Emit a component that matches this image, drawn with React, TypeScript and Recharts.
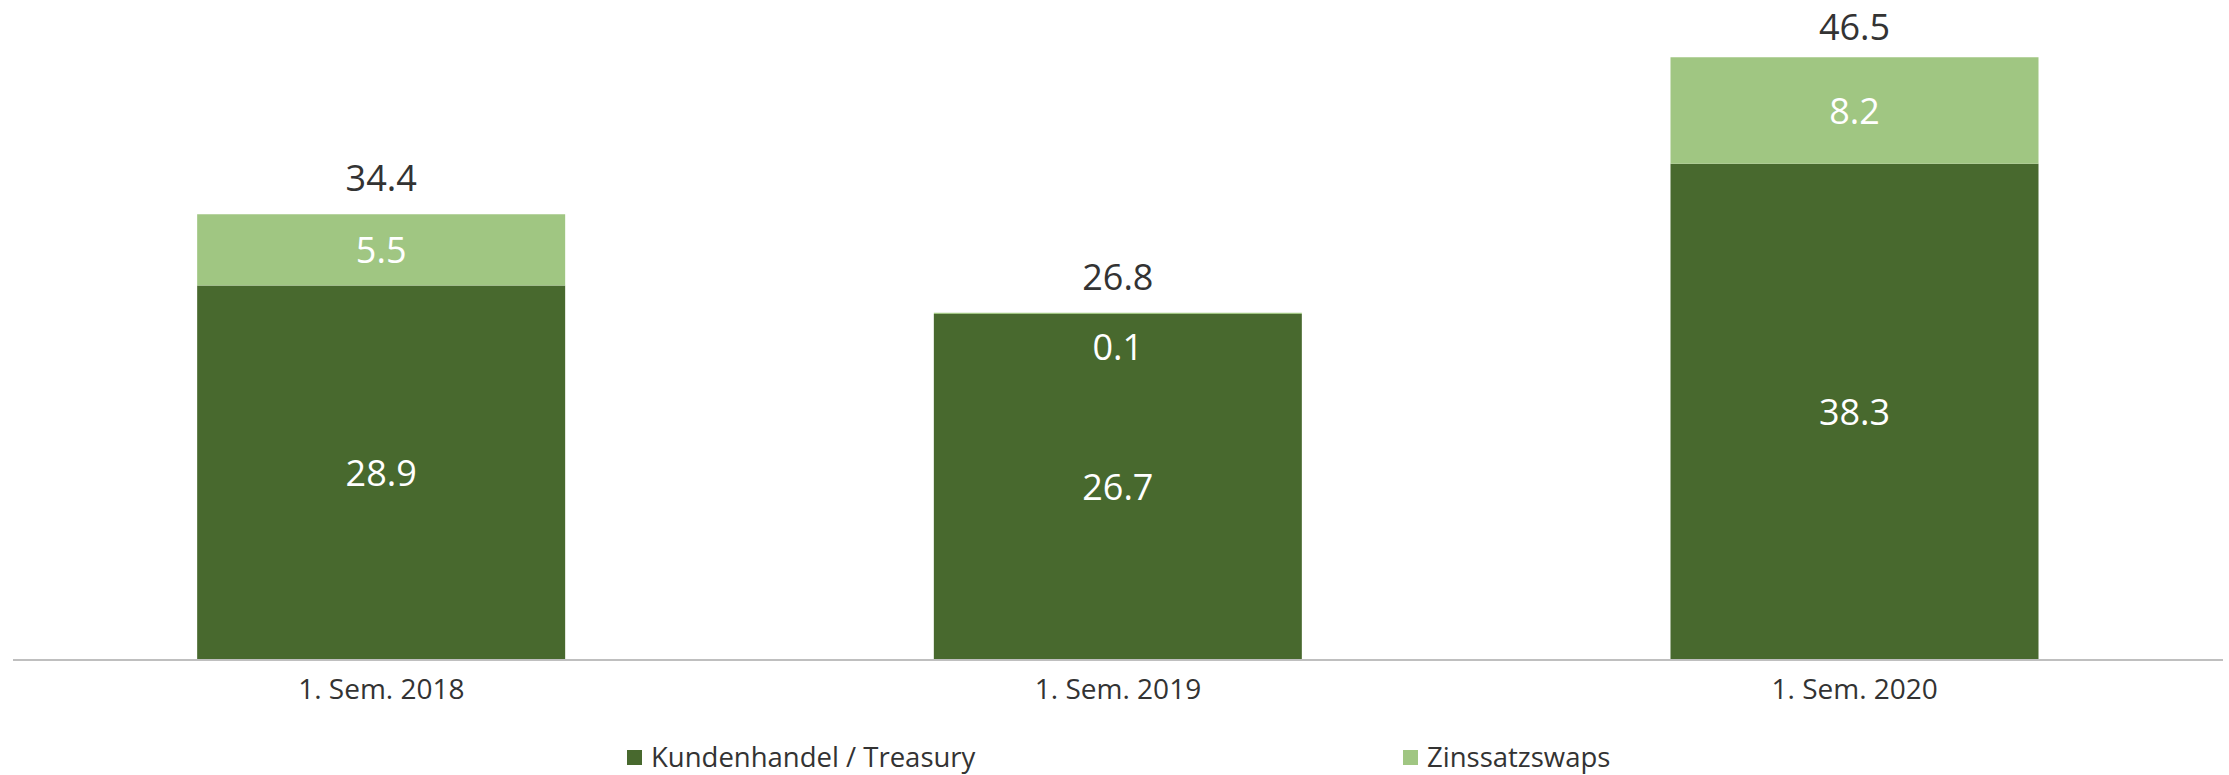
import React from "react";
import { BarChart, Bar, XAxis, YAxis, LabelList, Legend } from "recharts";

const categories = ["1. Sem. 2018", "1. Sem. 2019", "1. Sem. 2020"];
const kundenhandel = [28.9, 26.7, 38.3];
const zinssatzswaps = [5.5, 0.1, 8.2];
const totals = [34.4, 26.8, 46.5];

const seriesNames = ["Kundenhandel / Treasury", "Zinssatzswaps"];
const DARK = "#48692e";
const LIGHT = "#a0c682";
const FONT = "'Open Sans', 'Noto Sans', sans-serif";

const data = categories.map((c, i) => ({
  name: c,
  kunden: kundenhandel[i],
  zins: zinssatzswaps[i],
  total: totals[i],
}));

const fmt = (v: any) => (typeof v === "number" ? v.toFixed(1) : v);

const box = (props: any) => {
  const vb = props.viewBox || props;
  return {
    x: Number(vb.x ?? props.x),
    y: Number(vb.y ?? props.y),
    w: Number(vb.width ?? props.width),
    h: Math.abs(Number(vb.height ?? props.height)),
  };
};

const LightLabel = (props: any) => {
  const { x, y, w, h } = box(props);
  const cy = h < 30 ? y + 34 : y + h / 2;
  return (
    <text
      x={x + w / 2}
      y={cy}
      textAnchor="middle"
      dominantBaseline="central"
      fill="#ffffff"
      fontSize={36}
      fontFamily={FONT}
    >
      {fmt(props.value)}
    </text>
  );
};

const TotalLabel = (props: any) => {
  const { x, y, w } = box(props);
  const base = Math.max(y - 23, 40);
  return (
    <text
      x={x + w / 2}
      y={base}
      textAnchor="middle"
      fill="#333333"
      fontSize={36}
      fontFamily={FONT}
    >
      {fmt(props.value)}
    </text>
  );
};

const renderLegend = () => {
  const colors = [DARK, LIGHT];
  return (
    <div style={{ display: "flex", justifyContent: "flex-start", paddingLeft: 627, fontFamily: FONT }}>
      {seriesNames.map((n, i) => (
        <div
          key={n}
          style={{
            display: "flex",
            alignItems: "center",
            width: i === 0 ? 776 : "auto",
          }}
        >
          <span
            style={{
              display: "inline-block",
              width: 15,
              height: 15,
              background: colors[i],
              marginRight: 9,
            }}
          />
          <span style={{ fontSize: 27.5, color: "#333333", lineHeight: "36px" }}>{n}</span>
        </div>
      ))}
    </div>
  );
};

export default function App() {
  return (
    <div style={{ position: "absolute", left: 0, top: 0, width: 2229, height: 775, background: "#fff" }}>
      <BarChart
        width={2229}
        height={775}
        data={data}
        margin={{ top: 12, right: 6, left: 13, bottom: 65 }}
        barCategoryGap="25%"
        style={{ fontFamily: FONT }}
      >
        <XAxis
          dataKey="name"
          height={50}
          axisLine={{ stroke: "#bfbfbf", strokeWidth: 2 }}
          tickLine={false}
          tickSize={0}
          tickMargin={19}
          tick={{ fontSize: 28, fill: "#333333", fontFamily: FONT }}
        />
        <YAxis hide domain={[0, 50]} />
        <Legend
          verticalAlign="middle"
          align="center"
          content={renderLegend}
          wrapperStyle={{ top: 739, left: 0, width: 2229 }}
        />
        <Bar
          dataKey="kunden"
          name={seriesNames[0]}
          stackId="a"
          fill={DARK}
          isAnimationActive={false}
        >
          <LabelList
            dataKey="kunden"
            position="center"
            fill="#ffffff"
            fontSize={36}
            fontFamily={FONT}
            formatter={fmt}
          />
        </Bar>
        <Bar
          dataKey="zins"
          name={seriesNames[1]}
          stackId="a"
          fill={LIGHT}
          isAnimationActive={false}
        >
          <LabelList dataKey="zins" content={LightLabel} />
          <LabelList dataKey="total" content={TotalLabel} />
        </Bar>
      </BarChart>
    </div>
  );
}
